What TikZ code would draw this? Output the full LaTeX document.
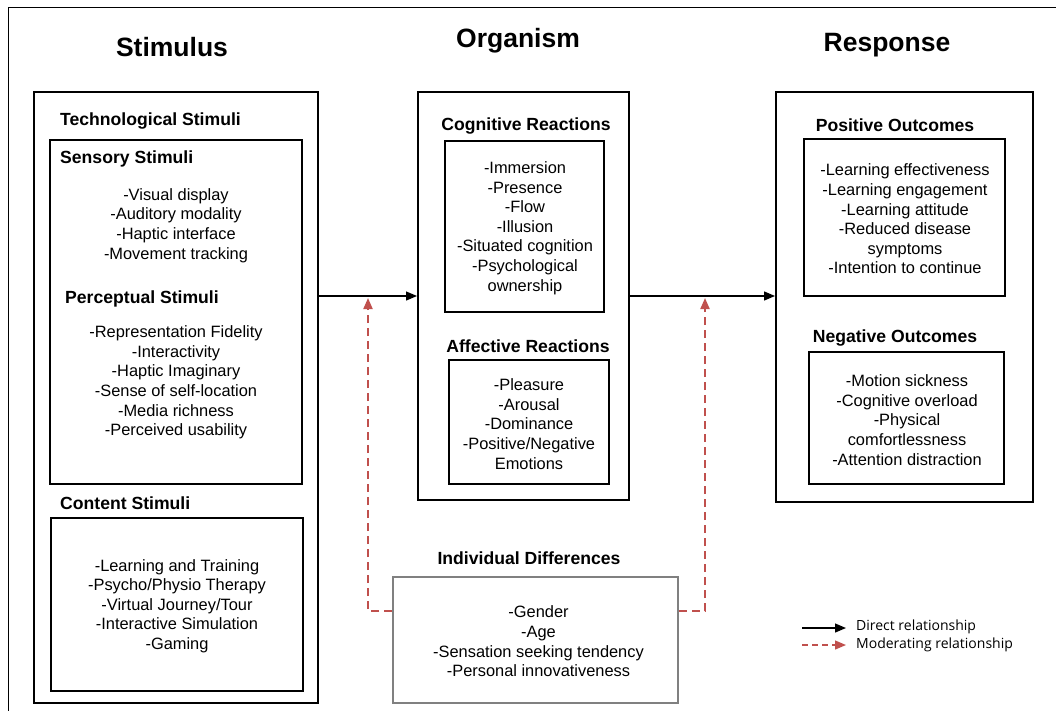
\documentclass[tikz,border=0pt]{standalone}
\usepackage{fontspec}
\setmainfont{Liberation Sans}
\newfontfamily\legendfont{Open Sans}
\usetikzlibrary{arrows.meta}
\definecolor{modred}{RGB}{192,80,77}
\tikzset{
    bigbox/.style = {draw, line width=2pt, inner sep=0pt},
    subbox/.style = {draw, line width=1.3pt, inner sep=0pt},
    diffbox/.style = {draw=black!50, line width=2pt, inner sep=0pt},
    head/.style = {font=\fontsize{26.5}{30}\selectfont\bfseries, inner sep=0pt},
    title/.style = {font=\fontsize{17.6}{20}\selectfont\bfseries, inner sep=0pt},
    items/.style = {font=\fontsize{16.4}{19.6}\selectfont, align=center, inner sep=0pt},
    direct/.style = {line width=1.3pt, -{Triangle[length=11pt,width=9pt]}},
    moder/.style = {modred, line width=2pt, dash pattern=on 8pt off 5pt,
        -{Triangle[length=11pt,width=9pt]}}
}
\begin{document}
\begin{tikzpicture}[x=1pt,y=-1pt]
        \useasboundingbox (0,0) rectangle (1056,710);
        \draw[line width=1pt] (8,712) -- (8,7) -- (1058,7);
        % headings
        \node[head] (hstim) at (172,47) {Stimulus};
        \node[head] (horg) at (518,41) {Organism};
        \node[head] (hresp) at (887,45) {Response};
        % stimulus
        \node[bigbox, minimum width=284pt, minimum height=611pt] (stim) at (176,397.5) {};
        \node[subbox, minimum width=252pt, minimum height=344pt] (sens) at (176,312) {};
        \node[subbox, minimum width=252pt, minimum height=173pt] (cont) at (177,604.5) {};
        \node[title, anchor=west] (ttech) at (60,120.5) {Technological Stimuli};
        \node[title, anchor=west] (tsens) at (60,158.5) {Sensory Stimuli};
        \node[title, anchor=west] (tperc) at (65,298.5) {Perceptual Stimuli};
        \node[title, anchor=west] (tcont) at (60,503.5) {Content Stimuli};
        \node[items] (lsens) at (176,225.5) {-Visual display\\-Auditory modality\\-Haptic interface\\-Movement tracking};
        \node[items] (lperc) at (176,382.5) {-Representation Fidelity\\-Interactivity\\-Haptic Imaginary\\-Sense of self-location\\-Media richness\\-Perceived usability};
        \node[items] (lcont) at (177,606) {-Learning and Training\\-Psycho/Physio Therapy\\-Virtual Journey/Tour\\-Interactive Simulation\\-Gaming};
        % organism
        \node[bigbox, minimum width=211pt, minimum height=408pt] (org) at (523.5,296) {};
        \node[subbox, minimum width=159pt, minimum height=171pt] (cogn) at (524.5,226.5) {};
        \node[subbox, minimum width=160pt, minimum height=124pt] (affc) at (529,422) {};
        \node[title] (tcogn) at (526,125.5) {Cognitive Reactions};
        \node[title] (taffc) at (528,346.5) {Affective Reactions};
        \node[items] (lcogn) at (525,228) {-Immersion\\-Presence\\-Flow\\-Illusion\\-Situated cognition\\-Psychological\\ownership};
        \node[items] (laffc) at (529,424) {-Pleasure\\-Arousal\\-Dominance\\-Positive/Negative\\Emotions};
        % response
        \node[bigbox, minimum width=257pt, minimum height=410pt] (resp) at (904.5,297) {};
        \node[subbox, minimum width=201pt, minimum height=157pt] (posv) at (904.5,217.5) {};
        \node[subbox, minimum width=195pt, minimum height=132pt] (negv) at (906.5,418) {};
        \node[title] (tposv) at (895,125) {Positive Outcomes};
        \node[title] (tnegv) at (895,338) {Negative Outcomes};
        \node[items] (lposv) at (905,219) {-Learning effectiveness\\-Learning engagement\\-Learning attitude\\-Reduced disease\\symptoms\\-Intention to continue};
        \node[items] (lnegv) at (907,420) {-Motion sickness\\-Cognitive overload\\-Physical\\comfortlessness\\-Attention distraction};
        % individual differences
        \node[diffbox, minimum width=285pt, minimum height=126pt] (indiv) at (535.5,640) {};
        \node[title] (tindiv) at (529,558.5) {Individual Differences};
        \node[items] (lindiv) at (538.5,641.5) {-Gender\\-Age\\-Sensation seeking tendency\\-Personal innovativeness};
        % relationships
        \draw[direct] (org.west -| stim.east) -- (org.west);
        \draw[direct] (org.east) -- (org.east -| resp.west);
        \coordinate (modL) at (368,298);
        \coordinate (modR) at (705,298);
        \draw[moder] ([yshift=29pt]indiv.west) -| (modL);
        \draw[moder] ([yshift=29pt]indiv.east) -| (modR);
        % legend
        \node[anchor=west, font=\legendfont\fontsize{14}{16}\selectfont, inner sep=0pt] (ldir) at (856,627) {Direct relationship};
        \node[anchor=west, font=\legendfont\fontsize{14}{16}\selectfont, inner sep=0pt] (lmod) at (856,645) {Moderating relationship};
        \coordinate (ldirS) at (802,628);
        \coordinate (lmodS) at (802,645);
        \draw[direct] (ldirS) -- ([xshift=-10pt]ldir.west |- ldirS);
        \draw[moder, line width=1.3pt, dash pattern=on 6pt off 4pt] (lmodS) -- ([xshift=-10pt]lmod.west |- lmodS);
\end{tikzpicture}
\end{document}
